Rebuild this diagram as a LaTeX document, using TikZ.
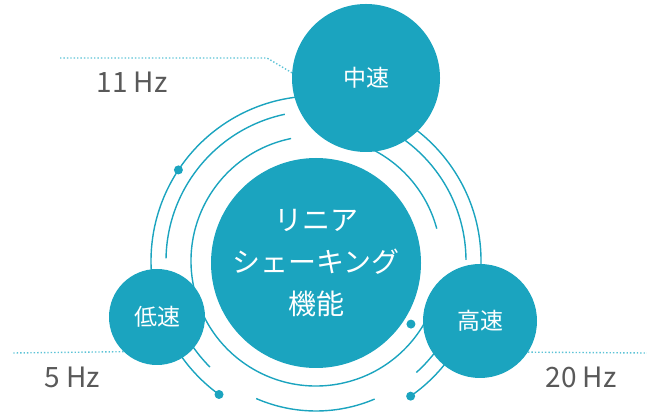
\documentclass[tikz,border=0pt]{standalone}
\usepackage{fontspec}
\setmainfont{Noto Sans CJK JP}
\usepackage{xcolor}
\definecolor{tealbub}{HTML}{1BA4BF}
\definecolor{dotcyan}{HTML}{5CC3D6}
\definecolor{hzgray}{HTML}{595959}

\begin{document}
\begin{tikzpicture}[x=1pt, y=1pt,
  bub/.style={circle, fill=tealbub, text=white, inner sep=0pt, align=center},
  ring/.style={tealbub, line width=1.4pt},
  hzline/.style={dotcyan, dotted, line width=1.4pt},
  hz/.style={text=hzgray, font=\fontsize{28}{32}\selectfont}]
\useasboundingbox (0,0) rectangle (647,417);
\coordinate (c) at (316,156);
% 外側
\draw[ring] (c) ++(-55:165) arc(-55:234:165);
% 中間
\draw[ring] (c) ++(102:150) arc(102:179:150);
\draw[ring] (c) ++(210:150) arc(210:225:150);
\draw[ring] (c) ++(246.5:150) arc(246.5:293:150);
\draw[ring] (c) ++(312:150) arc(312:330:150);
\draw[ring] (c) ++(0.4:150) arc(0.4:90:150);
% 内側
\draw[ring] (c) ++(101.5:125) arc(101.5:340:125);
\draw[ring] (c) ++(15:125) arc(15:75:125);
% 点
\fill[tealbub] (c) ++(146.5:165) circle(4.5);
\fill[tealbub] (c) ++(234:165) circle(4.5);
\fill[tealbub] (c) ++(-55:165) circle(4.5);
\fill[tealbub] (c) ++(-33.6:114) circle(4.5);
% 円
\node[bub, minimum size=210pt, font=\fontsize{28}{42}\selectfont] (core) at (316,154) {リニア\\シェーキング\\機能};
\node[bub, minimum size=148pt, font=\fontsize{23}{28}\selectfont] (mid) at (366,339) {中速};
\node[bub, minimum size=96pt, font=\fontsize{23}{28}\selectfont] (low) at (157,100) {低速};
\node[bub, minimum size=114pt, font=\fontsize{23}{28}\selectfont] (high) at (480,96) {高速};
% 周波数
\coordinate (midA) at (267,359);
\coordinate (midB) at (60,359);
\coordinate (lowA) at (13,64);
\coordinate (highA) at (647,64);
\draw[hzline] (mid.176) -- (midA) -- (midB);
\draw[hzline] (low.226) -- (lowA);
\draw[hzline] (high.327) -- (highA);
\node[hz] (hzmid) at (132,335) {11 Hz};
\node[hz] (hzlow) at (72,40) {5 Hz};
\node[hz] (hzhigh) at (581,40) {20 Hz};
\end{tikzpicture}
\end{document}
